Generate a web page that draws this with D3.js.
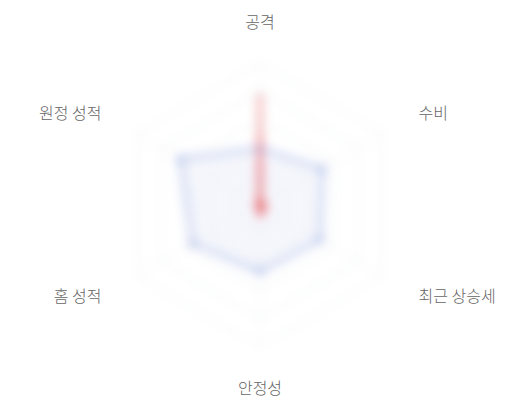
<!DOCTYPE html>
<html>
<head>
<meta charset="utf-8">
<script src="https://cdn.jsdelivr.net/npm/d3@7"></script>
<style>
  body { margin: 0; background: #fff; }
  svg { display: block; font-family: "Noto Sans CJK KR", "Noto Sans", sans-serif; }
</style>
</head>
<body>
<div class="canvas"></div>
<script>
const axes = ['공격', '수비', '최근 상승세', '안정성', '홈 성적', '원정 성적'];
const blueValues = [40, 51, 49, 47, 55, 65];
const redValues = [76, 2, 4, 7, 2, 2];
const maxValue = 100;
const rings = 5;

const dims = { width: 520, height: 400, radius: 142, labelRadius: 183 };
const center = { x: 260, y: 205 };

const svg = d3.select('.canvas')
                .append('svg')
                .attr('width', dims.width)
                .attr('height', dims.height);

const defs = svg.append('defs');
defs.append('filter')
    .attr('id', 'blur')
    .attr('x', '-20%').attr('y', '-20%')
    .attr('width', '140%').attr('height', '140%')
    .append('feGaussianBlur')
    .attr('stdDeviation', 5.5);

const graph = svg.append('g')
                .attr('transform', `translate(${center.x}, ${center.y})`);

const r = d3.scaleLinear().domain([0, maxValue]).range([0, dims.radius]);
const angle = i => (i / axes.length) * 2 * Math.PI;

const radarLine = d3.lineRadial()
                    .angle((d, i) => angle(i))
                    .radius(d => r(d))
                    .curve(d3.curveLinearClosed);

const blurred = graph.append('g').attr('filter', 'url(#blur)');

// grid rings
const ringValues = d3.range(1, rings + 1).map(k => k * maxValue / rings);
blurred.selectAll('path.ring')
    .data(ringValues)
    .enter()
    .append('path')
    .attr('class', 'ring')
    .attr('d', v => radarLine(axes.map(() => v)))
    .attr('fill', 'none')
    .attr('stroke', '#eceef2')
    .attr('stroke-width', 1.2);

// spokes
blurred.selectAll('line.spoke')
    .data(axes)
    .enter()
    .append('line')
    .attr('class', 'spoke')
    .attr('x1', 0).attr('y1', 0)
    .attr('x2', (d, i) => r(maxValue) * Math.sin(angle(i)))
    .attr('y2', (d, i) => -r(maxValue) * Math.cos(angle(i)))
    .attr('stroke', '#f0f1f4')
    .attr('stroke-width', 1);

// series
const series = [
    { values: blueValues, color: '#5b7fd8', fill: 0.07, stroke: 0.45 },
    { values: redValues, color: '#e84a4a', fill: 0.2, stroke: 0.55 }
];

series.forEach(s => {
    blurred.append('path')
        .attr('d', radarLine(s.values))
        .attr('fill', s.color)
        .attr('fill-opacity', s.fill)
        .attr('stroke', s.color)
        .attr('stroke-opacity', s.stroke)
        .attr('stroke-width', 3.5);

    blurred.selectAll(null)
        .data(s.values)
        .enter()
        .append('circle')
        .attr('cx', (d, i) => r(d) * Math.sin(angle(i)))
        .attr('cy', (d, i) => -r(d) * Math.cos(angle(i)))
        .attr('r', 3.5)
        .attr('fill', s.color)
        .attr('fill-opacity', 0.5);
});

// axis labels
graph.selectAll('text.label')
    .data(axes)
    .enter()
    .append('text')
    .attr('class', 'label')
    .attr('x', (d, i) => dims.labelRadius * Math.sin(angle(i)))
    .attr('y', (d, i) => -dims.labelRadius * Math.cos(angle(i)))
    .attr('dy', '0.35em')
    .attr('text-anchor', (d, i) => {
        const s = Math.sin(angle(i));
        return Math.abs(s) < 0.01 ? 'middle' : (s > 0 ? 'start' : 'end');
    })
    .attr('fill', '#666')
    .attr('font-size', 16)
    .attr('font-weight', 300)
    .text(d => d);
</script>
</body>
</html>
